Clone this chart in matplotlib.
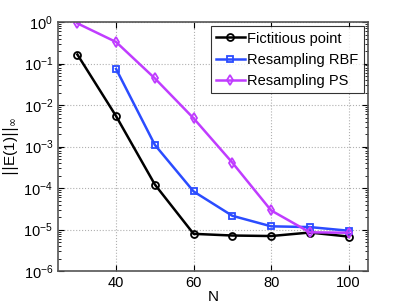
import matplotlib
matplotlib.use('Agg')
import matplotlib.pyplot as plt
from matplotlib.ticker import FixedLocator, NullFormatter

plt.rcParams['font.family'] = ['Liberation Sans', 'DejaVu Sans']

n_fict = [30, 40, 50, 60, 70, 80, 90, 100]
err_fict = [0.165, 5.4e-3, 1.22e-4, 7.9e-6, 7.2e-6, 7.0e-6, 8.5e-6, 6.8e-6]

n_rbf = [40, 50, 60, 70, 80, 90, 100]
err_rbf = [0.074, 1.1e-3, 8.3e-5, 2.15e-5, 1.2e-5, 1.15e-5, 9.4e-6]

n_ps = [30, 40, 50, 60, 70, 80, 90, 100]
err_ps = [0.93, 0.33, 0.044, 4.8e-3, 4.1e-4, 2.9e-5, 8.6e-6, 8.4e-6]

labels = ['Fictitious point', 'Resampling RBF', 'Resampling PS']
y_decades = [-6, -5, -4, -3, -2, -1, 0]

fig = plt.figure(figsize=(4.07, 3.06), dpi=100)
ax = fig.add_axes([0.1425, 0.114, 0.7615, 0.814])

ax.semilogy(n_fict, err_fict, '-o', color='black', lw=1.8, ms=5, mfc='none', mew=1.3, label=labels[0])
ax.semilogy(n_rbf, err_rbf, '-s', color='#2b4cff', lw=1.8, ms=4.5, mfc='none', mew=1.3, label=labels[1])
ax.semilogy(n_ps, err_ps, '-d', color='#c03cff', lw=1.8, ms=5, mfc='none', mew=1.3, label=labels[2])

ax.set_xlim(25, 105)
ax.set_ylim(1e-6, 1)
ax.set_xticks([40, 60, 80, 100])
ax.set_yticks([10.0**k for k in y_decades])
minor = [m * 10.0**k for k in y_decades[:-1] for m in range(2, 10)]
ax.yaxis.set_minor_locator(FixedLocator(minor))
ax.yaxis.set_minor_formatter(NullFormatter())

ax.grid(True, which='major', linestyle=':', color='#b0b0b0', lw=0.8)
ax.tick_params(direction='in', which='both', top=True, right=True, labelsize=10.5)
ax.tick_params(which='major', length=4)
ax.tick_params(which='minor', length=2)
for s in ax.spines.values():
    s.set_color('#555555')
    s.set_linewidth(1.2)

ax.set_xlabel('N', fontsize=11, labelpad=0)
ax.set_ylabel(r'$||$E(1)$||_\infty$', fontsize=11, labelpad=2)

leg = ax.legend(loc='upper right', fontsize=10.5, frameon=True, fancybox=False,
                edgecolor='black', handlelength=2.0, handletextpad=0.15,
                borderpad=0.35, labelspacing=0.5, borderaxespad=0.3)
leg.get_frame().set_linewidth(0.8)

fig.savefig('out.png', dpi=100)
